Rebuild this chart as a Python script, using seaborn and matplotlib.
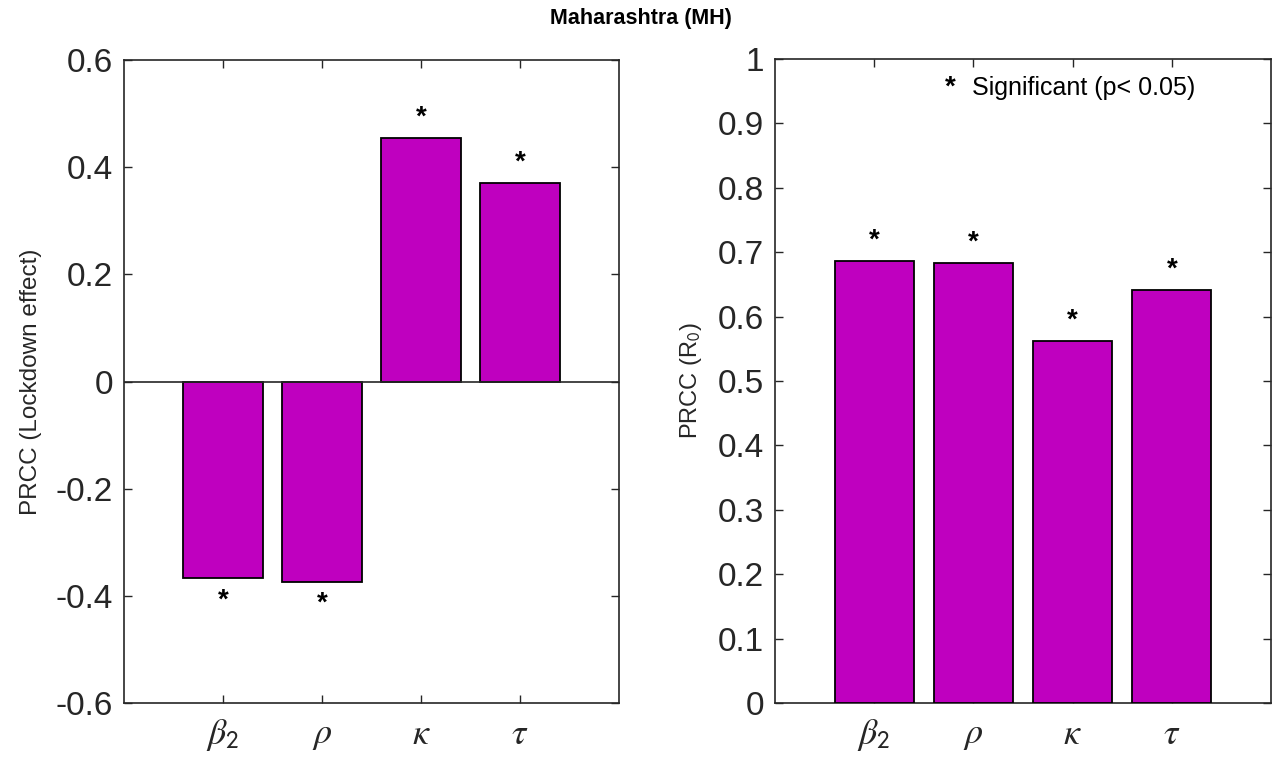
import matplotlib
matplotlib.use("Agg")
import matplotlib.pyplot as plt
import seaborn as sns
import pandas as pd
from matplotlib.ticker import FuncFormatter, FixedLocator

# ---- data ----
params = [r"$\beta_\mathsf{2}$", r"$\rho$", r"$\kappa$", r"$\tau$"]
prcc_lockdown = [-0.367, -0.374, 0.455, 0.370]
prcc_r0 = [0.686, 0.683, 0.562, 0.641]
significant_lockdown = [True, True, True, True]
significant_r0 = [True, True, True, True]
title = "Maharashtra (MH)"
ylabel_left = "PRCC (Lockdown effect)"
ylabel_right = r"PRCC (R$_\mathsf{0}$)"
legend_text = "Significant (p< 0.05)"

sns.set_theme(style="white")
plt.rcParams["font.family"] = ["Liberation Sans", "DejaVu Sans"]
plt.rcParams["mathtext.fontset"] = "stix"
plt.rcParams["axes.unicode_minus"] = False

BAR = "#BF00BF"
SPINE = "#262626"

fig = plt.figure(figsize=(12.82, 7.58), dpi=100)
axL = fig.add_axes([124/1282, 55/758, 495/1282, 643/758])
axR = fig.add_axes([775/1282, 55/758, 496/1282, 644/758])

dfL = pd.DataFrame({"param": params, "value": prcc_lockdown})
dfR = pd.DataFrame({"param": params, "value": prcc_r0})

fmt = FuncFormatter(lambda v, p: "%g" % round(v, 3))

def style(ax, ylim, yticks):
    ax.set_xlim(-1, 4)
    ax.set_ylim(*ylim)
    ax.yaxis.set_major_locator(FixedLocator(yticks))
    ax.yaxis.set_major_formatter(fmt)
    ax.set_xlabel("")
    for s in ax.spines.values():
        s.set_visible(True)
        s.set_color(SPINE)
        s.set_linewidth(1.2)
    ax.tick_params(axis="both", direction="in", length=6, width=1.0,
                   color=SPINE, top=True, right=True, bottom=True, left=True,
                   labelcolor="#262626")
    ax.tick_params(axis="y", labelsize=24, pad=8)
    ax.tick_params(axis="x", labelsize=26, pad=10)
    ax.set_facecolor("white")

for ax, df, sig in [(axL, dfL, significant_lockdown), (axR, dfR, significant_r0)]:
    sns.barplot(data=df, x="param", y="value", ax=ax, color=BAR, saturation=1,
                width=0.8, edgecolor="black", linewidth=1.3, zorder=3)
    for i, (v, s) in enumerate(zip(df["value"], sig)):
        if s:
            off = 14.5 if v >= 0 else -16
            ax.annotate("*", xy=(i, v), xytext=(0, off), textcoords="offset points",
                        ha="center", va="center", fontsize=20, fontweight="bold",
                        color="black")

axL.axhline(0, color=SPINE, lw=1.2, zorder=4)
style(axL, (-0.6, 0.6), [-0.6, -0.4, -0.2, 0, 0.2, 0.4, 0.6])
style(axR, (0, 1), [0, 0.1, 0.2, 0.3, 0.4, 0.5, 0.6, 0.7, 0.8, 0.9, 1.0])

axL.set_ylabel(ylabel_left, fontsize=17.5, color="#262626", labelpad=10)
axR.set_ylabel(ylabel_right, fontsize=17, color="#262626", labelpad=10)

axR.text(0.353, 0.955, "*", transform=axR.transAxes, ha="center", va="center",
         fontsize=20, fontweight="bold", color="black")
axR.text(0.397, 0.955, legend_text, transform=axR.transAxes, ha="left", va="center",
         fontsize=18, color="black")

fig.text(0.5, 0.976, title, ha="center", va="center", fontsize=15.5,
         fontweight="bold", color="black")

fig.savefig("out.png", dpi=100, facecolor="white")
